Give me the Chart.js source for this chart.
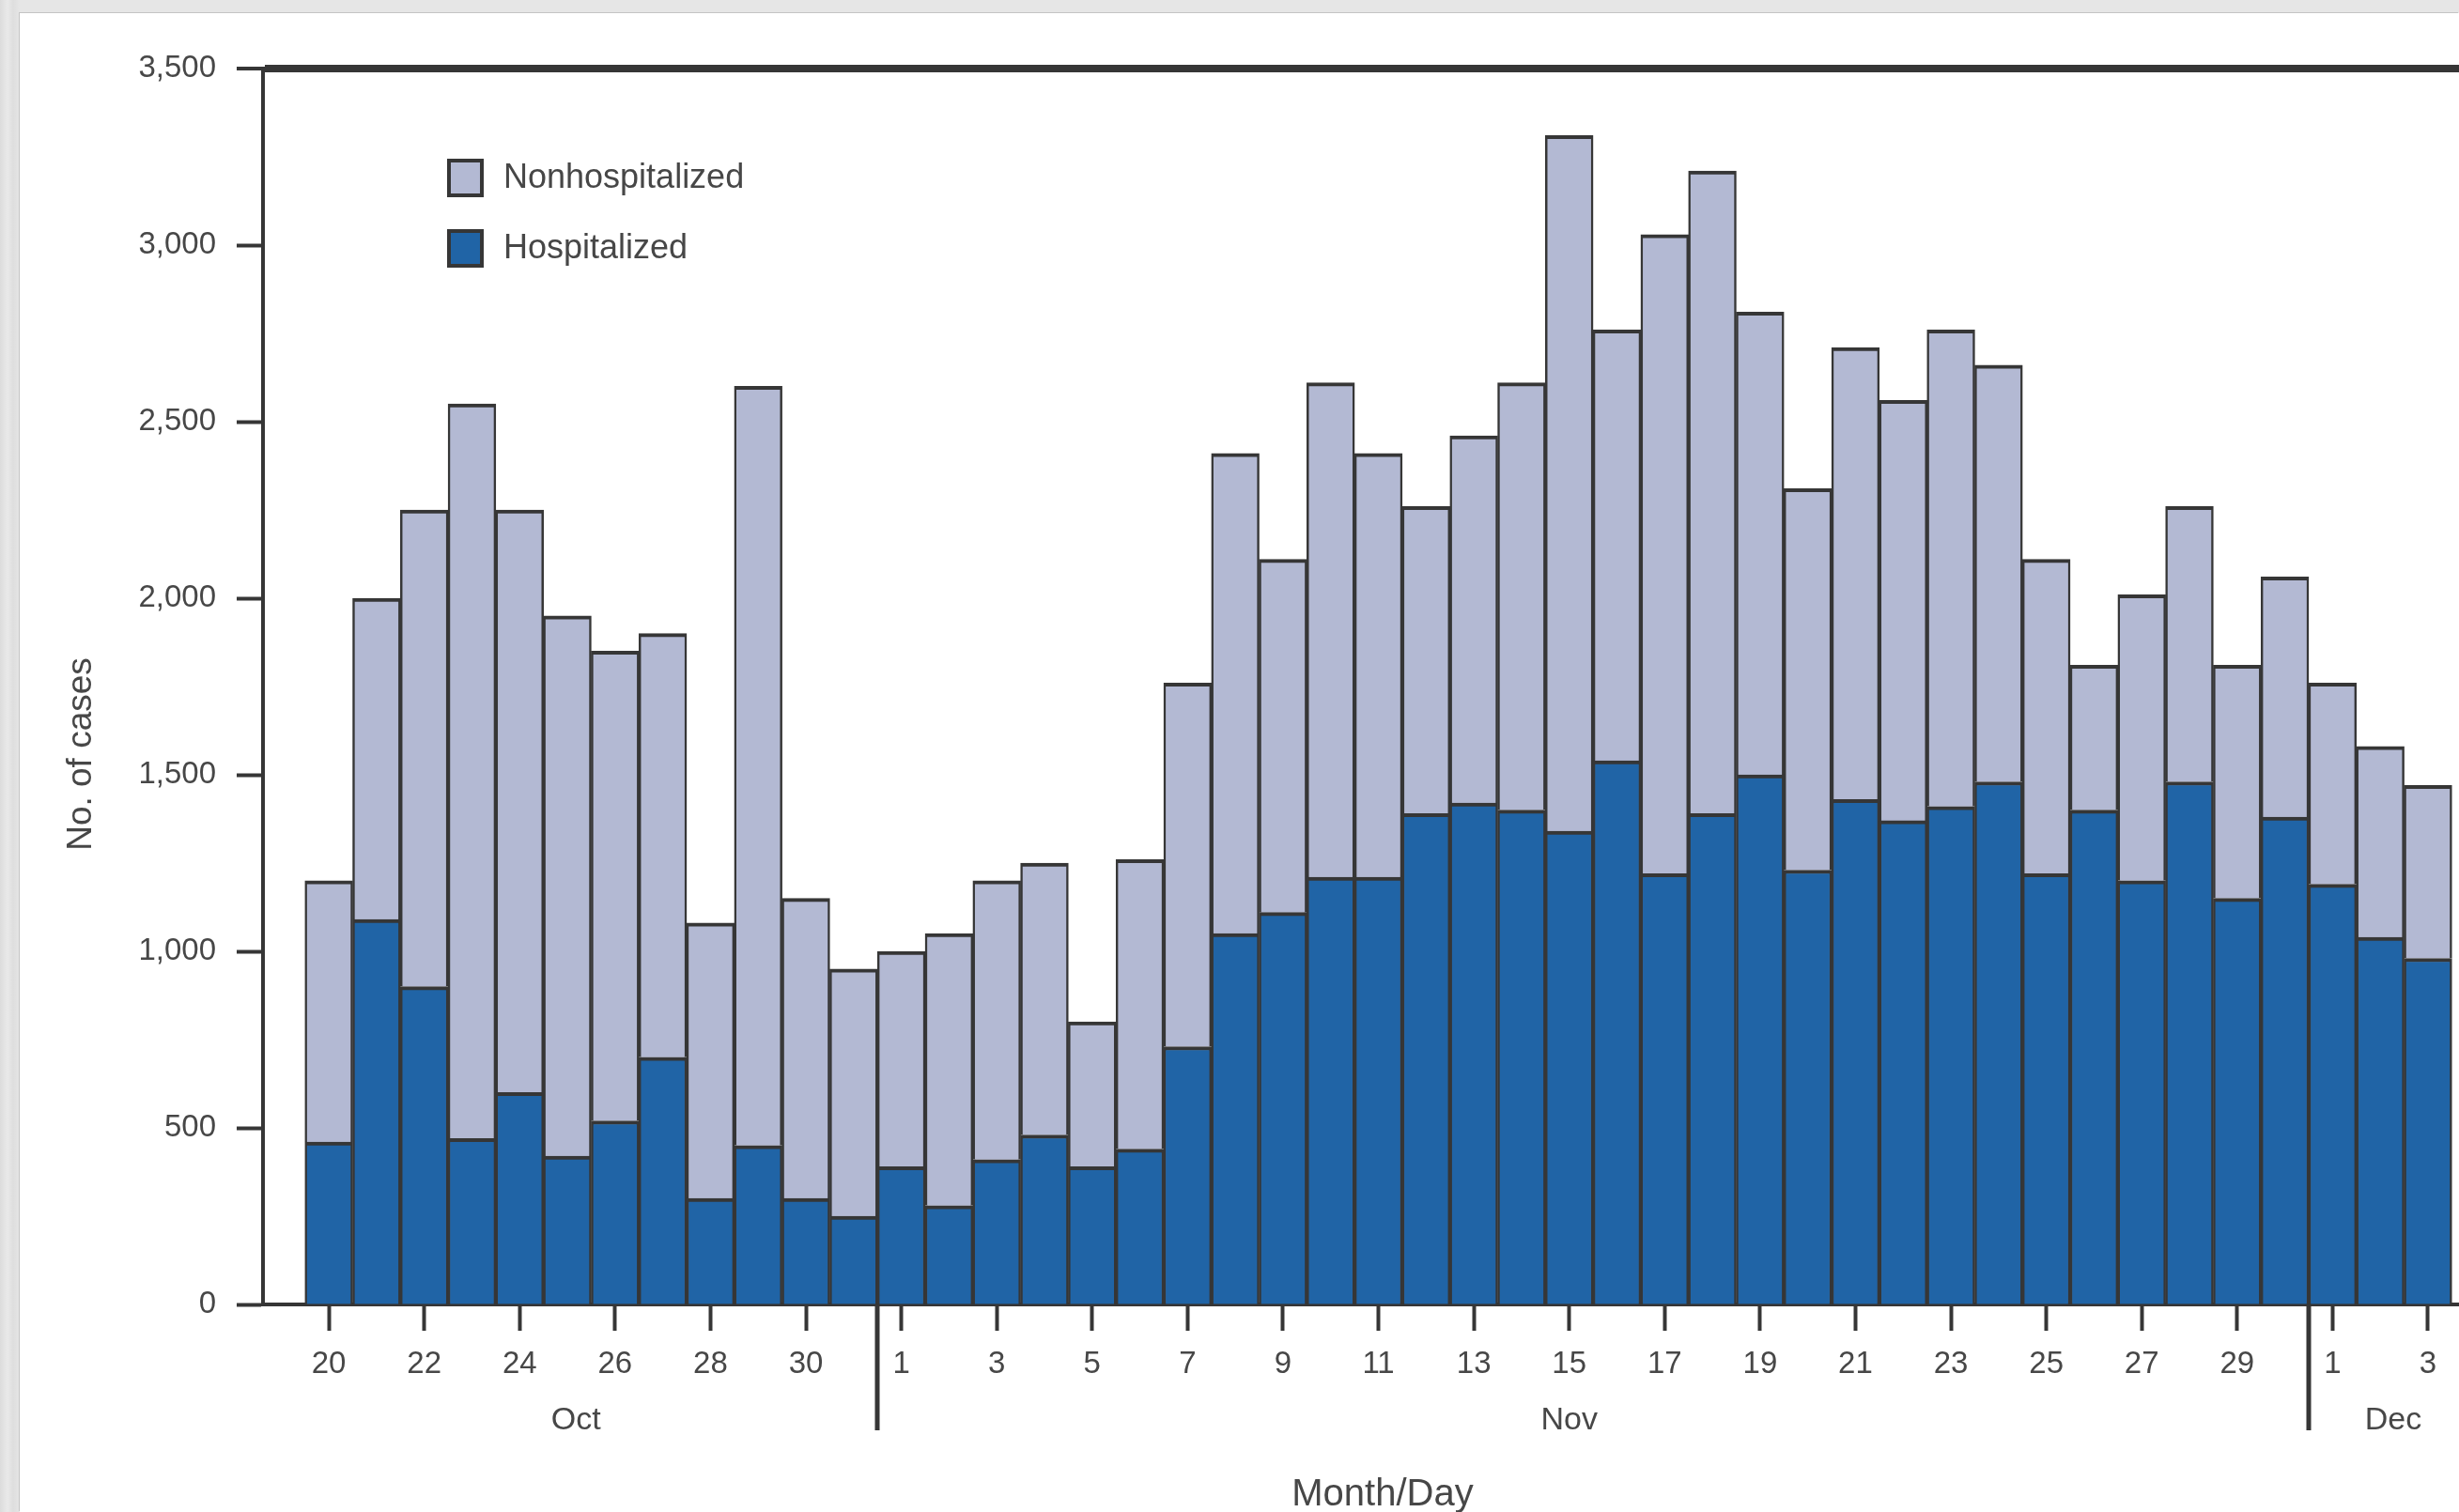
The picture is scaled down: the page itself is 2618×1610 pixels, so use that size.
<!DOCTYPE html>
<html>
<head>
<meta charset="utf-8">
<script src="https://cdn.jsdelivr.net/npm/chart.js@4.4.1/dist/chart.umd.min.js"></script>
<style>
html,body{margin:0;padding:0;width:2618px;height:1610px;overflow:hidden;
  background:linear-gradient(90deg,#dcdcdc 0,#e9e9e9 8px,#dedede 14px,#e6e6e6 21px);}
#panel{position:absolute;left:21px;top:14px;width:2597px;height:1596px;background:#fff;
  box-shadow:-1px -1px 0 #c4c4c4;}
#wrap{position:absolute;left:0;top:0;width:2618px;height:1610px;}
</style>
</head>
<body>
<div id="panel"></div>
<div id="wrap"><canvas id="c" width="2618" height="1610"></canvas></div>
<script>
// ---- data ----
const dayLabels = ['20','21','22','23','24','25','26','27','28','29','30','31',
  '1','2','3','4','5','6','7','8','9','10','11','12','13','14','15','16','17','18','19','20',
  '21','22','23','24','25','26','27','28','29','30',
  '1','2','3'];
const hospitalized = [460,1090,900,470,600,420,520,700,300,450,300,250,
  390,280,410,480,390,440,730,1050,1110,1210,1210,1390,1420,1400,1340,1540,1220,1390,1500,1230,
  1430,1370,1410,1480,1220,1400,1200,1480,1150,1380,
  1190,1040,980];
const nonhospitalized = [740,910,1350,2080,1650,1530,1330,1200,780,2150,850,700,
  610,770,790,770,410,820,1030,1360,1000,1400,1200,870,1040,1210,1970,1220,1810,1820,1310,1080,
  1280,1190,1350,1180,890,410,810,780,660,680,
  570,540,490];
const monthNames = ['Oct','Nov','Dec'];
const yTickValues = [0,500,1000,1500,2000,2500,3000,3500];
const seriesNames = ['Hospitalized','Nonhospitalized'];

// ---- layout constants ----
const monthBreaks = [11.5, 41.5];
const monthLabelAt = [5.18, 26, 43.27];
const xTickIdx = dayLabels.map((_, i) => i).filter(i => i % 2 === 0);

const FONT = '"Liberation Sans", Arial, sans-serif';
const TEXT = '#474747';
const LINE = '#363636';

Chart.defaults.font.family = FONT;
Chart.defaults.color = TEXT;

const extras = {
  id: 'extras',
  afterDraw(chart) {
    const {ctx, chartArea: ca, scales: {x}} = chart;
    ctx.save();
    // month separators
    ctx.strokeStyle = LINE;
    ctx.lineWidth = 5;
    monthBreaks.forEach(v => {
      const px = Math.round(x.getPixelForValue(v));
      ctx.beginPath();
      ctx.moveTo(px, ca.bottom);
      ctx.lineTo(px, ca.bottom + 134);
      ctx.stroke();
    });
    // month labels
    ctx.fillStyle = TEXT;
    ctx.font = '34px ' + FONT;
    ctx.textAlign = 'center';
    ctx.textBaseline = 'middle';
    monthNames.forEach((m, i) => ctx.fillText(m, x.getPixelForValue(monthLabelAt[i]), ca.bottom + 124));
    // axis titles
    ctx.font = '40px ' + FONT;
    ctx.fillText('Month/Day', 1472, 1592);
    ctx.save();
    ctx.translate(87, 803);
    ctx.rotate(-Math.PI / 2);
    ctx.font = '37px ' + FONT;
    ctx.fillText('No. of cases', 0, 0);
    ctx.restore();
    // legend (Nonhospitalized first, then Hospitalized)
    const order = [1, 0];
    ctx.textAlign = 'left';
    ctx.font = '36px ' + FONT;
    order.forEach((di, k) => {
      const ds = chart.data.datasets[di];
      const bx = 478, by = 171 + k * 75;
      ctx.fillStyle = ds.backgroundColor;
      ctx.fillRect(bx, by, 35, 37);
      ctx.lineWidth = 4;
      ctx.strokeStyle = LINE;
      ctx.strokeRect(bx, by, 35, 37);
      ctx.fillStyle = TEXT;
      ctx.fillText(ds.label, 536, by + 19);
    });
    ctx.restore();
  }
};

new Chart(document.getElementById('c'), {
  type: 'bar',
  data: {
    datasets: [
      {
        label: seriesNames[0],
        data: hospitalized.map((v, i) => ({x: i, y: v})),
        backgroundColor: '#2064a6',
        borderColor: LINE,
        borderWidth: {top: 4, left: 2.5, right: 2.5, bottom: 0},
        borderSkipped: false,
        barPercentage: 1,
        categoryPercentage: 1
      },
      {
        label: seriesNames[1],
        data: nonhospitalized.map((v, i) => ({x: i, y: v})),
        backgroundColor: '#b3b9d3',
        borderColor: LINE,
        borderWidth: {top: 4, left: 2.5, right: 2.5, bottom: 0},
        borderSkipped: false,
        barPercentage: 1,
        categoryPercentage: 1
      }
    ]
  },
  options: {
    responsive: false,
    animation: false,
    devicePixelRatio: 1,
    layout: {padding: {top: 73, left: 0, right: 0, bottom: 0}},
    plugins: {legend: {display: false}, tooltip: {enabled: false}},
    scales: {
      x: {
        type: 'linear',
        stacked: true,
        offset: false,
        min: -1.38,
        max: 44.65,
        afterBuildTicks: s => { s.ticks = xTickIdx.map(v => ({value: v})); },
        afterFit: s => { s.height = 221; },
        ticks: {
          autoSkip: false, maxRotation: 0, padding: 16,
          font: {size: 33}, color: TEXT,
          callback: v => dayLabels[v] ?? ''
        },
        grid: {display: true, drawOnChartArea: false, offset: false,
               tickLength: 28, tickWidth: 4, tickColor: LINE, color: LINE},
        border: {display: true, width: 4, color: LINE}
      },
      y: {
        stacked: true,
        min: 0,
        max: 3500,
        afterBuildTicks: s => { s.ticks = yTickValues.map(v => ({value: v})); },
        afterFit: s => { s.width = 280; },
        ticks: {
          padding: 22, font: {size: 33}, color: TEXT,
          callback: v => v.toLocaleString('en-US')
        },
        grid: {
          display: true, drawOnChartArea: true,
          color: c => (c.tick && c.tick.value === 3500) ? LINE : 'rgba(0,0,0,0)',
          lineWidth: c => (c.tick && c.tick.value === 3500) ? 8 : 1,
          tickLength: 28, tickWidth: 4, tickColor: LINE
        },
        border: {display: true, width: 4, color: LINE}
      }
    }
  },
  plugins: [extras]
});
</script>
</body>
</html>
